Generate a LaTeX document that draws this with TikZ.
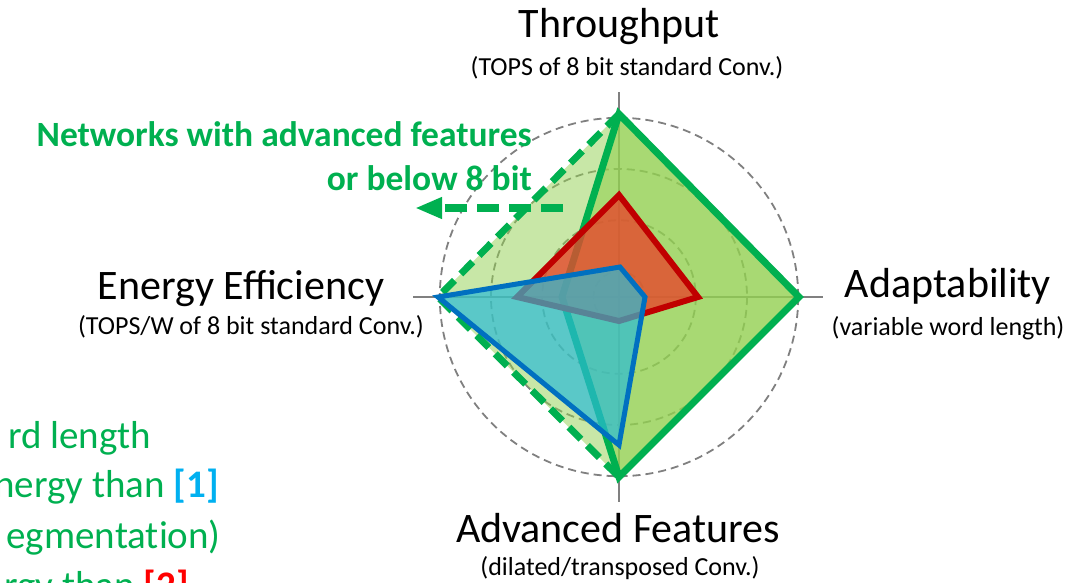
\documentclass[tikz,border=0pt]{standalone}
\usepackage{fontspec}
\setmainfont{Carlito}
\usetikzlibrary{arrows.meta}

\definecolor{axisgray}{HTML}{808080}
\definecolor{ngreen}{HTML}{00B050}
\definecolor{lgreen}{HTML}{92D050}
\definecolor{dred}{HTML}{C00000}
\definecolor{fred}{HTML}{E5492C}
\definecolor{dblue}{HTML}{0070C0}
\definecolor{fblue}{HTML}{2CBBD6}
\definecolor{refcyan}{HTML}{00B0F0}
\definecolor{refred}{HTML}{FF0000}

\tikzset{
  gridring/.style={axisgray, line width=1.8, dash pattern=on 8 off 5},
  axisline/.style={axisgray, line width=2.5},
  title/.style={anchor=base, font=\fontsize{42}{50}\selectfont, inner sep=0},
  subtitle/.style={anchor=base, font=\fontsize{26}{31}\selectfont, inner sep=0},
  note/.style={anchor=base east, text=ngreen, font=\fontsize{35.5}{42}\selectfont\bfseries, inner sep=0},
  side/.style={anchor=base east, text=ngreen,
    font=\fontsize{39}{46}\selectfont\addfontfeatures{Ligatures=NoCommon}, inner sep=0},
}

\begin{document}
\begin{tikzpicture}[x=1pt, y=-1pt, line join=miter]
\useasboundingbox (0,0) rectangle (1071,582);
\clip (0,0) rectangle (1071,582);

% centre of the radar chart and the four axis ends
\coordinate (C) at (619,297);
\coordinate (axT) at (619,92);
\coordinate (axB) at (619,502);
\coordinate (axL) at (413,297);
\coordinate (axR) at (823,297);

% grid rings and axes
\foreach \r in {25.6,76.8,128,179.2}
  \draw[gridring] (C) circle[radius=\r];
\draw[axisline] (axT) -- (axB);
\draw[axisline] (axL) -- (axR);

% green profile (solid) and its extension (dashed)
\coordinate (gT) at (619,114);
\coordinate (gR) at (799,297);
\coordinate (gB) at (619,477);
\coordinate (gL) at (562,297);
\coordinate (dL) at (438,297);

\fill[lgreen, opacity=0.5] (gT) -- (dL) -- (gB) -- (gL) -- cycle;
\fill[lgreen, opacity=0.8] (gT) -- (gR) -- (gB) -- (gL) -- cycle;
\draw[ngreen, line width=7] (gT) -- (gR) -- (gB) -- (gL) -- cycle;
\draw[ngreen, line width=7, dash pattern=on 17 off 9] (gT) -- (dL) -- (gB);

% red profile
\coordinate (rT) at (619,195);
\coordinate (rR) at (698,297);
\coordinate (rB) at (619,321);
\coordinate (rL) at (517,297);
\fill[fred, opacity=0.8] (rT) -- (rR) -- (rB) -- (rL) -- cycle;
\draw[dred, line width=6] (rT) -- (rR) -- (rB) -- (rL) -- cycle;

% blue profile
\coordinate (bT) at (620,267);
\coordinate (bR) at (645,297);
\coordinate (bB) at (619,445);
\coordinate (bL) at (438,297);
\fill[fblue, opacity=0.7] (bT) -- (bR) -- (bB) -- (bL) -- cycle;
\draw[dblue, line width=5] (bT) -- (bR) -- (bB) -- (bL) -- cycle;

% axis titles
\node[title] (tThr) at (619,37) {Throughput};
\node[subtitle] (sThr) at (627,75) {(TOPS of 8 bit standard Conv.)};
\node[title] (tEne) at (241,299) {Energy Efficiency};
\node[subtitle] (sEne) at (251,334) {(TOPS/W of 8 bit standard Conv.)};
\node[title] (tAda) at (948,297) {Adaptability};
\node[subtitle] (sAda) at (948,335) {(variable word length)};
\node[title] (tAdv) at (618,542) {Advanced Features};
\node[subtitle] (sAdv) at (620,575) {(dilated/transposed Conv.)};

% annotation with arrow
\node[note] (n1) at (532,146) {Networks with advanced features};
\node[note] (n2) at (532,190) {or below 8 bit};
\coordinate (arrS) at (563,208);
\coordinate (arrE) at (415,208);
\draw[ngreen, line width=8, dash pattern=on 22 off 10,
      -{Triangle[length=27, width=20]}] (arrS) -- (arrE);

% side text on the left
\node[side] (l1) at (151,448) {rd length};
\node[side] (l2) at (219,497) {nergy than \textcolor{refcyan}{\bfseries [1]}};
\node[side] (l3) at (221,548) {egmentation)};
\node[side] (l4) at (189,598) {rgy than \textcolor{refred}{\bfseries [2]}};
\end{tikzpicture}
\end{document}
